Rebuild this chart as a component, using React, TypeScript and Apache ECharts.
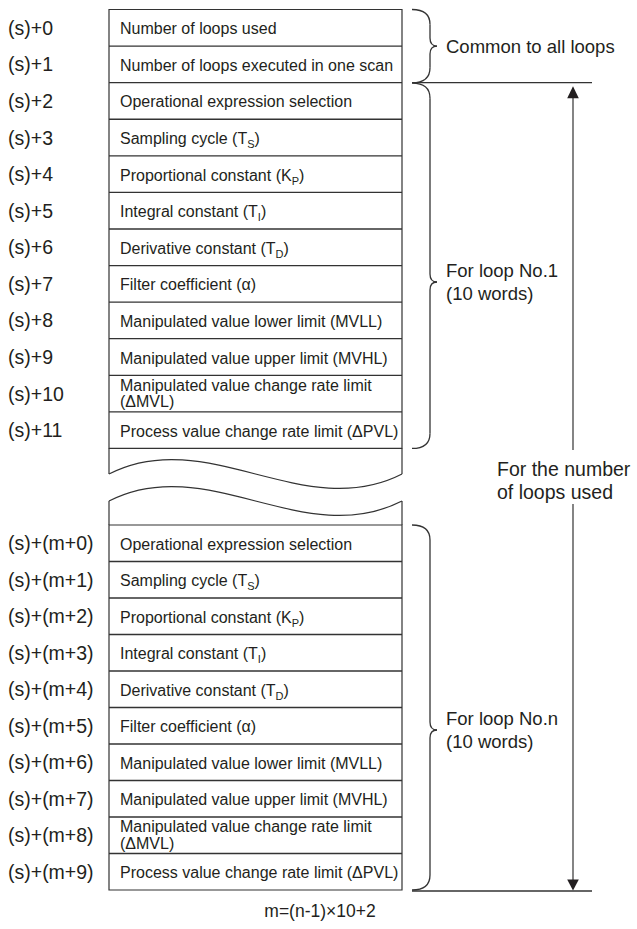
import React, { useEffect, useRef } from "react";
import * as echarts from "echarts";

const TOP_LABELS = ["(s)+0", "(s)+1", "(s)+2", "(s)+3", "(s)+4", "(s)+5", "(s)+6", "(s)+7", "(s)+8", "(s)+9", "(s)+10", "(s)+11"];
const COMMON_TEXTS = ["Number of loops used", "Number of loops executed in one scan"];
const LOOP_TEXTS = [
  "Operational expression selection",
  "Sampling cycle (T{s|S})",
  "Proportional constant (K{s|P})",
  "Integral constant (T{s|I})",
  "Derivative constant (T{s|D})",
  "Filter coefficient (α)",
  "Manipulated value lower limit (MVLL)",
  "Manipulated value upper limit (MVHL)",
  "Manipulated value change rate limit\n(ΔMVL)",
  "Process value change rate limit (ΔPVL)",
];
const BOTTOM_LABELS = ["(s)+(m+0)", "(s)+(m+1)", "(s)+(m+2)", "(s)+(m+3)", "(s)+(m+4)", "(s)+(m+5)", "(s)+(m+6)", "(s)+(m+7)", "(s)+(m+8)", "(s)+(m+9)"];
const GROUP_LABELS = ["Common to all loops", "For loop No.1\n(10 words)", "For loop No.n\n(10 words)", "For the number\nof loops used"];
const FORMULA = "m=(n-1)×10+2";

const FONT = '"Liberation Sans", Arial, Helvetica, sans-serif';
const INK = "#231f20";
const LINE = "#333333";

const BOX_L = 109;
const BOX_R = 402;
const TOP_Y = 9.5;
const ROW_H = 36.58;
const LOW_TOP = 525;
const LOW_H = 36.5;

function text(x: number, y: number, t: string, size: number, align = "left", lineHeight = 22) {
  return {
    type: "text",
    x,
    y,
    silent: true,
    style: {
      text: t,
      fill: INK,
      font: `${size}px ${FONT}`,
      align,
      verticalAlign: "middle",
      lineHeight,
      rich: {
        s: { fontSize: 11, fontFamily: FONT, fill: INK, lineHeight: 11, verticalAlign: "bottom" },
      },
    },
  };
}

function line(x1: number, y1: number, x2: number, y2: number, w = 1.2) {
  return { type: "line", silent: true, shape: { x1, y1, x2, y2 }, style: { stroke: LINE, lineWidth: w } };
}

function quad(x1: number, y1: number, cx: number, cy: number, x2: number, y2: number) {
  return {
    type: "bezierCurve",
    silent: true,
    shape: { x1, y1, x2, y2, cpx1: cx, cpy1: cy },
    style: { stroke: LINE, lineWidth: 1.3, fill: "none" },
  };
}

function brace(top: number, bottom: number, tip: number) {
  const x0 = 412;
  const xv = 430;
  const xt = 437;
  const r = 15;
  const r2 = 8;
  return [
    quad(x0, top, xv, top, xv, top + r),
    line(xv, top + r, xv, tip - r2, 1.3),
    quad(xv, tip - r2, xv, tip, xt, tip),
    quad(xt, tip, xv, tip, xv, tip + r2),
    line(xv, tip + r2, xv, bottom - r, 1.3),
    quad(xv, bottom - r, xv, bottom, x0, bottom),
  ];
}

function wave(base: number) {
  const w = BOX_R - BOX_L;
  return {
    type: "bezierCurve",
    silent: true,
    shape: {
      x1: BOX_L,
      y1: base,
      cpx1: BOX_L + w / 3,
      cpy1: base - 50,
      cpx2: BOX_L + (2 * w) / 3,
      cpy2: base + 50,
      x2: BOX_R,
      y2: base,
    },
    style: { stroke: LINE, lineWidth: 1.2, fill: "none" },
  };
}

function cellText(yc: number, t: string) {
  if (t.indexOf("\n") >= 0) {
    const parts = t.split("\n");
    return [text(120, yc - 8.5, parts[0], 16, "left", 16), text(120, yc + 8, parts[1], 16, "left", 16)];
  }
  return [text(120, yc + 1, t, 16)];
}

function buildGraphics() {
  const els: any[] = [];
  const topTexts = [...COMMON_TEXTS, ...LOOP_TEXTS];
  const topBottom = TOP_Y + ROW_H * TOP_LABELS.length;

  // upper table
  els.push({
    type: "rect",
    silent: true,
    shape: { x: BOX_L, y: TOP_Y, width: BOX_R - BOX_L, height: topBottom - TOP_Y },
    style: { fill: "none", stroke: LINE, lineWidth: 1.2 },
  });
  TOP_LABELS.forEach((lab, i) => {
    const yTop = TOP_Y + i * ROW_H;
    const yc = yTop + ROW_H / 2;
    if (i > 0) els.push(line(BOX_L, yTop, BOX_R, yTop, 1.3));
    els.push(text(8, yc, lab, 19.5));
    els.push(...cellText(yc, topTexts[i]));
  });

  // break pieces
  const upperWave = 474;
  const lowerWave = 501;
  els.push(line(BOX_L, topBottom, BOX_L, upperWave));
  els.push(line(BOX_R, topBottom, BOX_R, upperWave));
  els.push(wave(upperWave));
  els.push(wave(lowerWave));
  els.push(line(BOX_L, lowerWave, BOX_L, LOW_TOP));
  els.push(line(BOX_R, lowerWave, BOX_R, LOW_TOP));

  // lower table
  const lowBottom = LOW_TOP + LOW_H * BOTTOM_LABELS.length;
  els.push({
    type: "rect",
    silent: true,
    shape: { x: BOX_L, y: LOW_TOP, width: BOX_R - BOX_L, height: lowBottom - LOW_TOP },
    style: { fill: "none", stroke: LINE, lineWidth: 1.2 },
  });
  BOTTOM_LABELS.forEach((lab, i) => {
    const yTop = LOW_TOP + i * LOW_H;
    const yc = yTop + LOW_H / 2;
    if (i > 0) els.push(line(BOX_L, yTop, BOX_R, yTop, 1.3));
    els.push(text(8, yc, lab, 19.5));
    els.push(...cellText(yc, LOOP_TEXTS[i]));
  });

  // braces
  const commonBottom = TOP_Y + ROW_H * 2;
  els.push(...brace(TOP_Y, commonBottom, (TOP_Y + commonBottom) / 2));
  els.push(...brace(commonBottom + 0.5, topBottom, 282));
  els.push(...brace(LOW_TOP, lowBottom, 730));

  els.push(text(446, (TOP_Y + commonBottom) / 2, GROUP_LABELS[0], 18.5));
  els.push(text(446, 282, GROUP_LABELS[1], 18.5, "left", 23));
  els.push(text(446, 730, GROUP_LABELS[2], 18.5, "left", 23));
  els.push(text(497, 480, GROUP_LABELS[3], 19.5, "left", 23));

  // range lines and arrow
  const ax = 573;
  els.push(line(412, commonBottom, 592, commonBottom, 1.3));
  els.push(line(412, lowBottom + 1, 592, lowBottom + 1, 1.3));
  els.push(line(ax, 96, ax, 450, 1.2));
  els.push(line(ax, 504, ax, lowBottom - 8, 1.2));
  els.push({
    type: "polygon",
    silent: true,
    shape: { points: [[ax, commonBottom + 3.5], [ax - 5.8, commonBottom + 15.5], [ax + 5.8, commonBottom + 15.5]] },
    style: { fill: INK },
  });
  els.push({
    type: "polygon",
    silent: true,
    shape: { points: [[ax, lowBottom + 0.5], [ax - 5.8, lowBottom - 10.5], [ax + 5.8, lowBottom - 10.5]] },
    style: { fill: INK },
  });

  els.push(text(320, 911, FORMULA, 17.5, "center"));
  return els;
}

export default function App() {
  const ref = useRef<HTMLDivElement>(null);
  useEffect(() => {
    if (!ref.current) return;
    const chart = echarts.init(ref.current, null, { renderer: "svg" });
    chart.setOption({
      animation: false,
      backgroundColor: "#ffffff",
      graphic: { elements: buildGraphics() },
    });
    return () => chart.dispose();
  }, []);
  return (
    <div
      ref={ref}
      style={{ position: "fixed", left: 0, top: 0, width: 637, height: 929, background: "#fff" }}
    />
  );
}
